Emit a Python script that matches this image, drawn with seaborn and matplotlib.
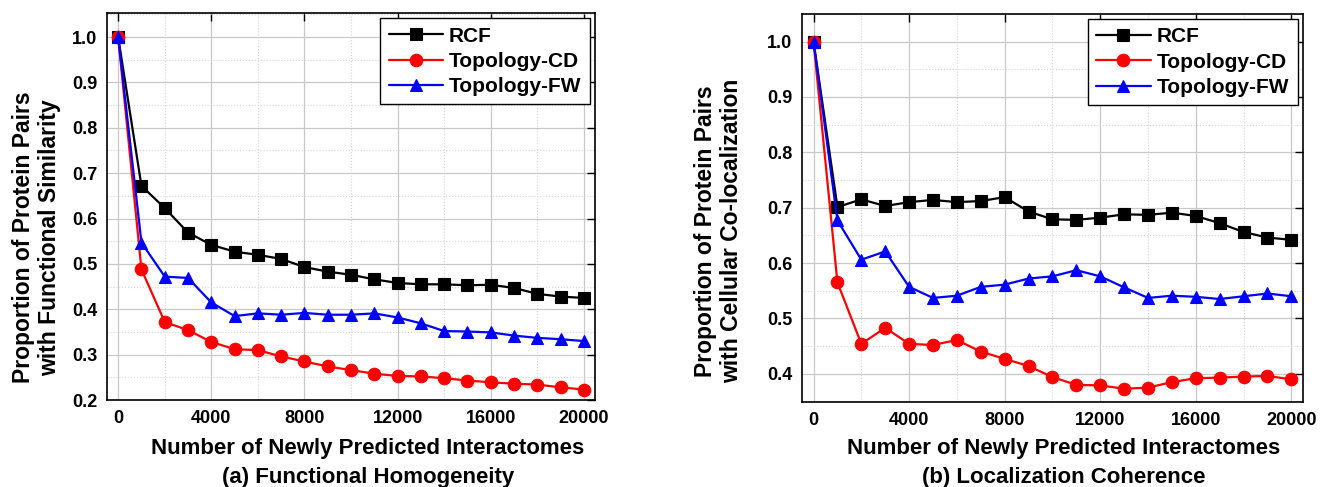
import numpy as np
import pandas as pd
import matplotlib
matplotlib.use("Agg")
import matplotlib.pyplot as plt
from matplotlib.ticker import MultipleLocator, FormatStrFormatter
import seaborn as sns

x_vals = [0, 1000, 2000, 3000, 4000, 5000, 6000, 7000, 8000, 9000, 10000,
          11000, 12000, 13000, 14000, 15000, 16000, 17000, 18000, 19000, 20000]
methods = ["RCF", "Topology-CD", "Topology-FW"]

# (a) Functional Homogeneity
fh_rcf = [1.0, 0.672, 0.623, 0.569, 0.542, 0.527, 0.520, 0.511, 0.493, 0.483, 0.476,
          0.466, 0.458, 0.455, 0.455, 0.453, 0.454, 0.447, 0.434, 0.428, 0.425]
fh_cd = [1.0, 0.488, 0.372, 0.354, 0.328, 0.312, 0.310, 0.296, 0.285, 0.274, 0.266,
         0.258, 0.253, 0.252, 0.248, 0.243, 0.239, 0.236, 0.234, 0.228, 0.223]
fh_fw = [1.0, 0.547, 0.472, 0.469, 0.415, 0.385, 0.391, 0.388, 0.392, 0.388, 0.388,
         0.391, 0.382, 0.369, 0.352, 0.351, 0.349, 0.342, 0.337, 0.334, 0.330]

# (b) Localization Coherence
lc_rcf = [1.0, 0.701, 0.715, 0.703, 0.710, 0.714, 0.710, 0.712, 0.719, 0.693, 0.679,
          0.678, 0.682, 0.688, 0.687, 0.691, 0.685, 0.672, 0.656, 0.646, 0.642]
lc_cd = [1.0, 0.565, 0.454, 0.483, 0.454, 0.452, 0.461, 0.440, 0.427, 0.414, 0.394,
         0.380, 0.379, 0.373, 0.375, 0.385, 0.392, 0.393, 0.395, 0.396, 0.390]
lc_fw = [1.0, 0.677, 0.606, 0.621, 0.557, 0.537, 0.541, 0.557, 0.561, 0.572, 0.576,
         0.587, 0.576, 0.556, 0.537, 0.541, 0.539, 0.535, 0.540, 0.545, 0.540]

x_ticks = [0, 4000, 8000, 12000, 16000, 20000]
xlabel = "Number of Newly Predicted Interactomes"
ylabel_a = "Proportion of Protein Pairs\nwith Functional Similarity"
ylabel_b = "Proportion of Protein Pairs\nwith Cellular Co-localization"
title_a = "(a) Functional Homogeneity"
title_b = "(b) Localization Coherence"


def long_df(series):
    rows = []
    for m, vals in zip(methods, series):
        for xv, yv in zip(x_vals, vals):
            rows.append({"x": xv, "y": yv, "Method": m})
    return pd.DataFrame(rows)


df_a = long_df([fh_rcf, fh_cd, fh_fw])
df_b = long_df([lc_rcf, lc_cd, lc_fw])

sns.set_style("white")
plt.rcParams["font.family"] = ["Liberation Sans", "DejaVu Sans"]
plt.rcParams["font.weight"] = "bold"
plt.rcParams["text.color"] = "black"
plt.rcParams["axes.labelcolor"] = "black"
plt.rcParams["xtick.color"] = "black"
plt.rcParams["ytick.color"] = "black"

palette = {"RCF": "#000000", "Topology-CD": "#ff0000", "Topology-FW": "#0000ff"}
markers = {"RCF": "s", "Topology-CD": "o", "Topology-FW": "^"}

fig = plt.figure(figsize=(13.39, 4.87), dpi=100)
ax1 = fig.add_axes([0.0799, 0.1786, 0.3645, 0.7947])
ax2 = fig.add_axes([0.599, 0.1745, 0.374, 0.797])


def draw(ax, df, ylim, ymaj, ylabel, title, xl_coords, yl_coords, title_y):
    sns.lineplot(data=df, x="x", y="y", hue="Method", style="Method",
                 palette=palette, markers=markers, dashes=False,
                 linewidth=1.6, markersize=9, markeredgewidth=0.8,
                 ax=ax, zorder=3)
    for line in ax.get_lines():
        line.set_markeredgecolor(line.get_color())
    ax.set_xlim(-480, 20480)
    ax.set_ylim(*ylim)
    ax.xaxis.set_major_locator(plt.FixedLocator(x_ticks))
    ax.xaxis.set_minor_locator(MultipleLocator(2000))
    ax.yaxis.set_minor_locator(MultipleLocator(0.05))
    ax.set_yticks(ymaj)
    ax.yaxis.set_major_formatter(FormatStrFormatter("%.1f"))
    ax.grid(which="major", color="#c8c8c8", linewidth=0.9, linestyle="-", zorder=0)
    ax.grid(which="minor", color="#d4d4d4", linewidth=0.8, linestyle=":", zorder=0)
    ax.tick_params(which="major", direction="in", length=6, width=1.0,
                   top=True, right=True, labelsize=13, pad=7, colors="black")
    ax.tick_params(which="minor", length=0)
    for lab in ax.get_xticklabels() + ax.get_yticklabels():
        lab.set_fontweight("bold")
    for sp in ax.spines.values():
        sp.set_color("black")
        sp.set_linewidth(1.2)
    ax.set_xlabel(xlabel, fontsize=16, fontweight="bold")
    ax.xaxis.set_label_coords(*xl_coords)
    ax.text(xl_coords[0], title_y, title, transform=ax.transAxes, ha="center",
            va="center", fontsize=16, fontweight="bold")
    ax.set_ylabel(ylabel, fontsize=16.5, fontweight="bold", linespacing=1.15)
    ax.yaxis.set_label_coords(*yl_coords)
    leg = ax.legend(loc="upper right", fontsize=15, frameon=True, fancybox=False,
                    handlelength=2.6, handletextpad=0.3, borderpad=0.4,
                    labelspacing=0.3, borderaxespad=0.25, title=None)
    leg.get_frame().set_edgecolor("black")
    leg.get_frame().set_linewidth(1.0)
    leg.get_frame().set_alpha(1.0)
    for t in leg.get_texts():
        t.set_fontweight("bold")


draw(ax1, df_a, (0.2, 1.053), [0.2, 0.3, 0.4, 0.5, 0.6, 0.7, 0.8, 0.9, 1.0],
     ylabel_a, title_a, (0.535, -0.097), (-0.094, 0.42), -0.20)
draw(ax2, df_b, (0.349, 1.05), [0.4, 0.5, 0.6, 0.7, 0.8, 0.9, 1.0],
     ylabel_b, title_b, (0.523, -0.092), (-0.118, 0.44), -0.194)

fig.savefig("out.png", dpi=100)
